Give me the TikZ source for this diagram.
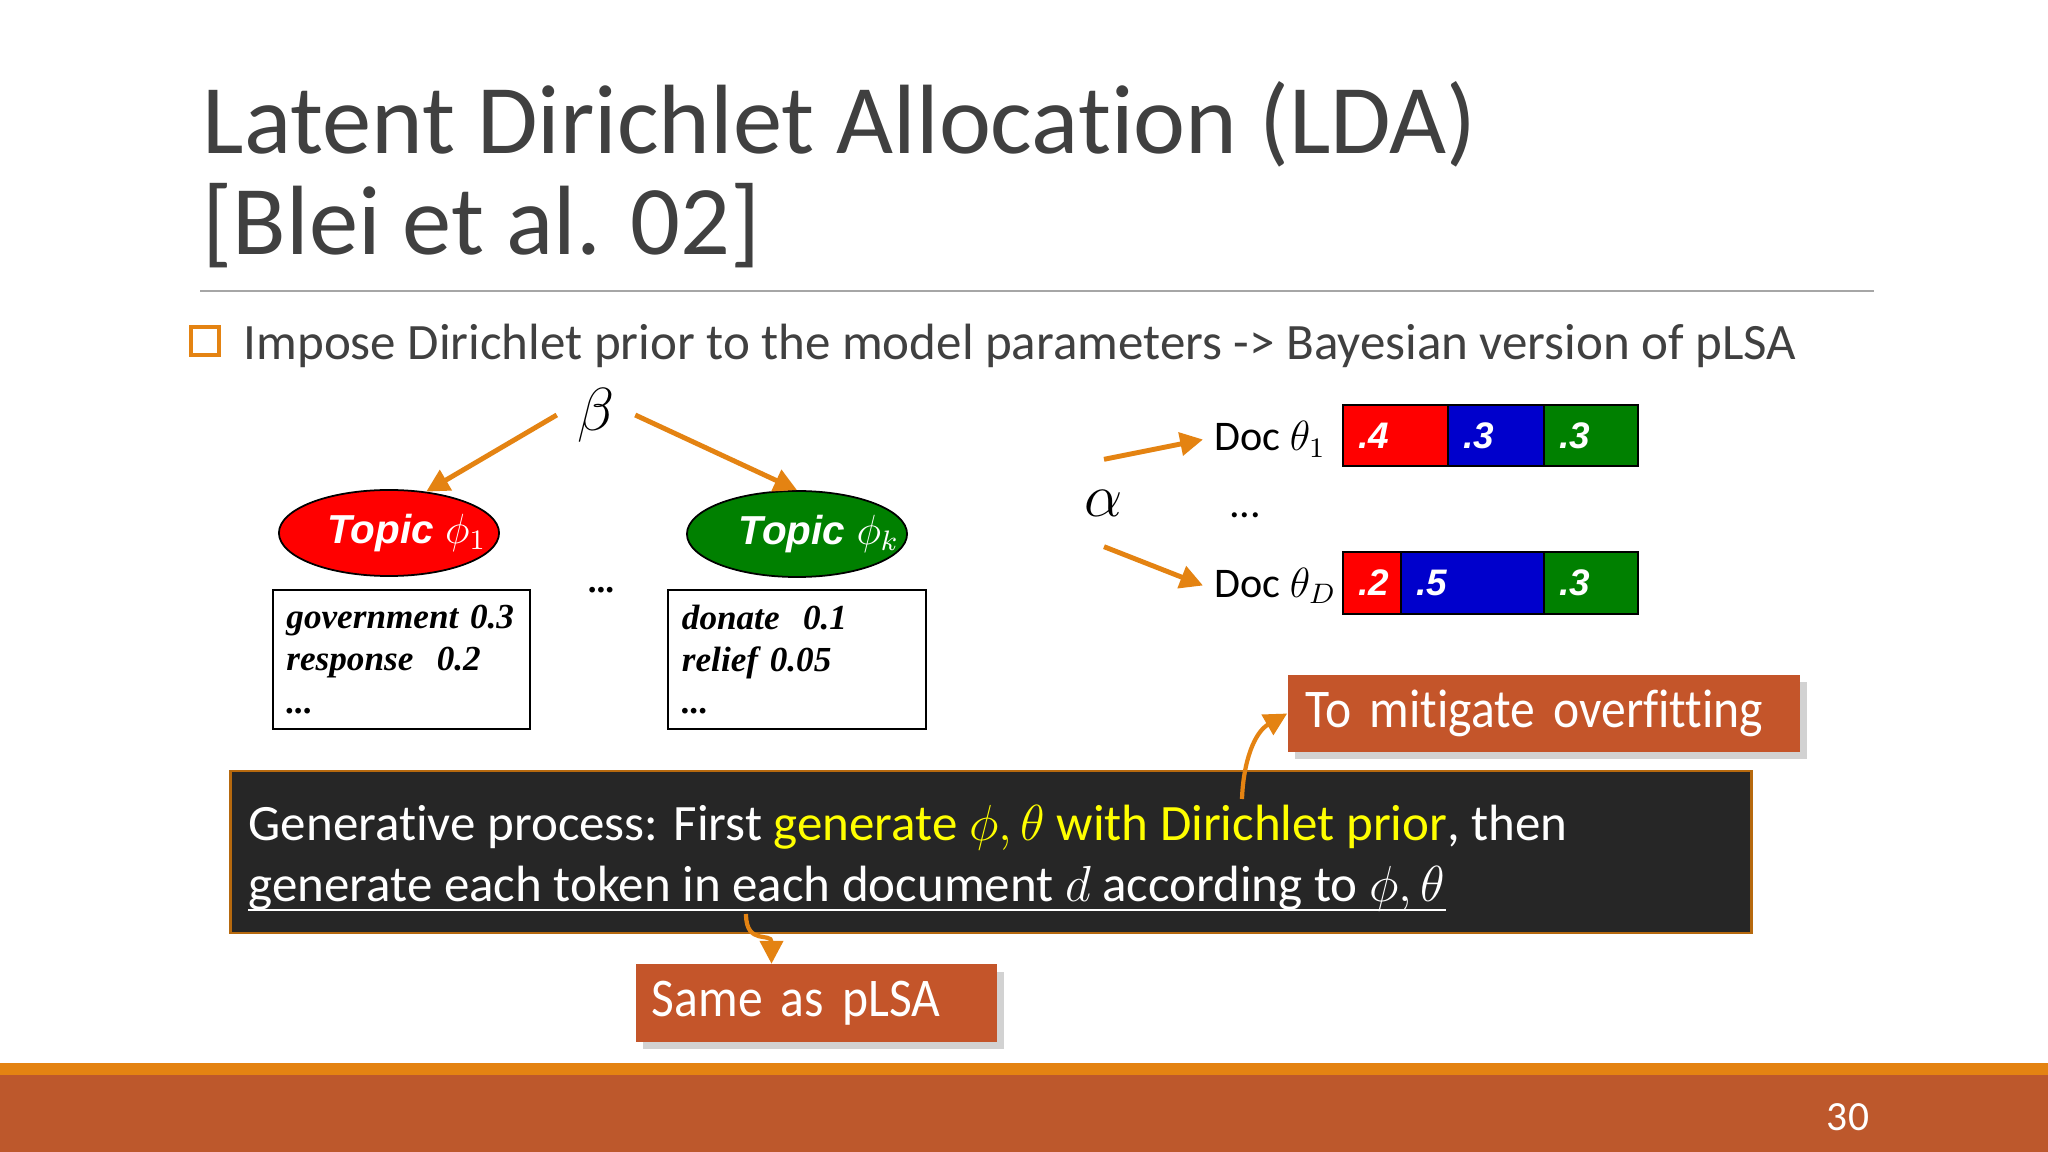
\documentclass[tikz,border=0pt]{standalone}
\usepackage{fontspec}
\setmainfont{Carlito}[Ligatures=NoCommon]
\newfontfamily\callfont{Carlito}[FakeStretch=0.91, Ligatures=NoCommon]
\newfontfamily\arialfont{Liberation Sans}
\newfontfamily\timesfont{Liberation Serif}
\usetikzlibrary{math,arrows.meta,shapes.geometric,shadows,calc}

\definecolor{accorange}{HTML}{E48312}
\definecolor{accrust}{HTML}{BD582C}
\definecolor{callrust}{HTML}{C4552A}
\definecolor{titlegray}{HTML}{404040}
\definecolor{darkpanel}{HTML}{262626}
\definecolor{topicgreen}{HTML}{008000}
\definecolor{segblue}{HTML}{0000CC}
\definecolor{hiyellow}{HTML}{FFFF00}

\begin{document}
\begin{tikzpicture}[x=0.01cm, y=-0.01cm,
    % one unit = one pixel of the 2048 x 1152 slide, y runs down
    arr/.style={draw=accorange, line width=1.4pt, -{Triangle[length=6.5pt,width=6.5pt]}},
    topic/.style={ellipse, draw=black, line width=0.5pt, minimum width=2.2cm, minimum height=0.86cm, inner sep=0pt},
    topiclabel/.style={text=white, inner sep=0pt, font=\arialfont\bfseries\itshape\fontsize{11.5pt}{13pt}\selectfont},
    wordbox/.style={draw=black, line width=0.6pt, text width=2.3cm, inner xsep=0.135cm,
      minimum height=1.39cm, align=left, font=\timesfont\bfseries\itshape\fontsize{10pt}{12pt}\selectfont},
    seglabel/.style={text=white, inner sep=0pt, font=\arialfont\bfseries\itshape\fontsize{10.5pt}{12pt}\selectfont},
    doclabel/.style={inner sep=3pt, font=\fontsize{12pt}{15pt}\selectfont},
    callout/.style={fill=callrust, text=white, align=left, minimum height=0.77cm,
      font=\callfont\fontsize{15.5pt}{18pt}\selectfont,
      drop shadow={shadow xshift=2pt, shadow yshift=-2pt, opacity=0.35}},
    gentext/.style={text=white, inner sep=0pt, font=\fontsize{14.5pt}{18pt}\selectfont}]

    \useasboundingbox (0,0) rectangle (2048,1152);
    \fill[white] (0,0) rectangle (2048,1152);

    \tikzmath{% bar rows, px
      \bL = 1343; \bR = 1638;
      \rowA = 405; \rowAb = 466;
      \rowB = 552; \rowBb = 614;
    }

    % title
    \node[anchor=base west, inner sep=0pt, text=titlegray, font=\fontsize{28pt}{30pt}\selectfont]
      (title1) at (202,154) {Latent Dirichlet Allocation (LDA)};
    \node[anchor=base west, inner sep=0pt, text=titlegray, font=\fontsize{28pt}{30pt}\selectfont]
      (title2) at (202,255) {[Blei et al. 02]};
    \draw[black!35, line width=0.5pt] (200,291) -- (1874,291);

    % bullet
    \node[draw=accorange, line width=1.3pt, minimum size=0.28cm, inner sep=0pt] (bul) at (205,341) {};
    \node[anchor=base west, inner sep=0pt, text=titlegray, font=\fontsize{14.5pt}{18pt}\selectfont]
      (point) at (243,360) {Impose Dirichlet prior to the model parameters -> Bayesian version of pLSA};

    % topics
    \node[inner xsep=5.7pt, font=\fontsize{17pt}{20pt}\selectfont] (beta) at (596,415) {$\beta$};
    \node[topic, fill=red] (t1) at (389,533) {};
    \node[topic, fill=topicgreen] (tk) at (797,534) {};
    \node[topiclabel] (t1l) at (407,533) {Topic $\phi_1$};
    \node[topiclabel] (tkl) at (819,534) {Topic $\phi_k$};
    \draw[arr] (beta.west) -- (t1.48);
    \draw[arr] (beta.east) -- (tk.north);

    \node[wordbox] (w1) at (401.5,659.5) {\mbox{government 0.3}\\\mbox{response\ \ 0.2}\\...};
    \node[wordbox] (wk) at (797,659.5) {\mbox{donate\ \ 0.1}\\\mbox{relief 0.05}\\...};
    \node[font=\timesfont\bfseries\fontsize{10pt}{12pt}\selectfont] (tdots) at (601,590) {...};

    % documents
    \node[inner sep=8.5pt, font=\fontsize{17pt}{20pt}\selectfont] (alpha) at (1104,503) {$\alpha$};
    \node[doclabel, anchor=base west] (doc1) at (1203,451) {Doc $\theta_1$};
    \node[doclabel, anchor=base west] (docD) at (1203,597) {Doc $\theta_D$};
    \node[font=\fontsize{12pt}{15pt}\selectfont] (ddots) at (1245,515) {...};
    \draw[arr] (alpha.north) -- (doc1.west);
    \draw[arr] (alpha.south) -- (docD.west);

    \foreach \xa/\xb/\ya/\yb/\col/\val/\nm in
      {\bL/1448/\rowA/\rowAb/red/.4/pa, 1448/1544/\rowA/\rowAb/segblue/.3/pb, 1544/\bR/\rowA/\rowAb/topicgreen/.3/pc,
       \bL/1401/\rowB/\rowBb/red/.2/qa, 1401/1544/\rowB/\rowBb/segblue/.5/qb, 1544/\bR/\rowB/\rowBb/topicgreen/.3/qc}
    {
      \draw[fill=\col, line width=0.5pt] (\xa,\ya) rectangle (\xb,\yb);
      \node[seglabel, anchor=west] (\nm) at ({\xa+15},{(\ya+\yb)/2}) {\val};
    }

    % generative process
    \node[fill=darkpanel, draw=accorange!80!black, line width=0.8pt, minimum width=15.2cm, minimum height=1.62cm]
      (panel) at (991,852) {};
    \node[gentext, anchor=base west] (gl1) at (248,840)
      {Generative process: First \textcolor{hiyellow}{generate $\phi,\theta$ with Dirichlet prior}, then};
    \node[gentext, anchor=base west] (gl2) at (248,901)
      {generate each token in each document $d$ according to $\phi,\theta$};
    \draw[white, line width=0.6pt] ([yshift=-2.6pt]gl2.base west) -- ([yshift=-2.6pt]gl2.base east);

    % callouts
    \node[callout, text width=4.76cm, inner xsep=0.18cm] (mit) at (1544,713.5) {\mbox{To mitigate overfitting}};
    \node[callout, text width=3.29cm, inner xsep=0.16cm] (same) at (816.5,1003) {\mbox{Same as pLSA}};
    \coordinate (mstart) at (1242,799);
    \coordinate (sstart) at (746,914);
    \draw[arr, line width=1.2pt] (mstart) to[out=88, in=210] (mit.west);
    \draw[arr, line width=1.2pt] (sstart) .. controls ($(sstart)+(0,32)$) and ($(same.north)+(-45,-32)$) .. ($(same.north)+(-45,0)$);

    % footer
    \fill[accorange] (0,1063) rectangle (2048,1075);
    \fill[accrust] (0,1075) rectangle (2048,1152);
    \node[text=white, font=\fontsize{11.8pt}{14pt}\selectfont] (pageno) at (1848,1117) {30};
\end{tikzpicture}
\end{document}
